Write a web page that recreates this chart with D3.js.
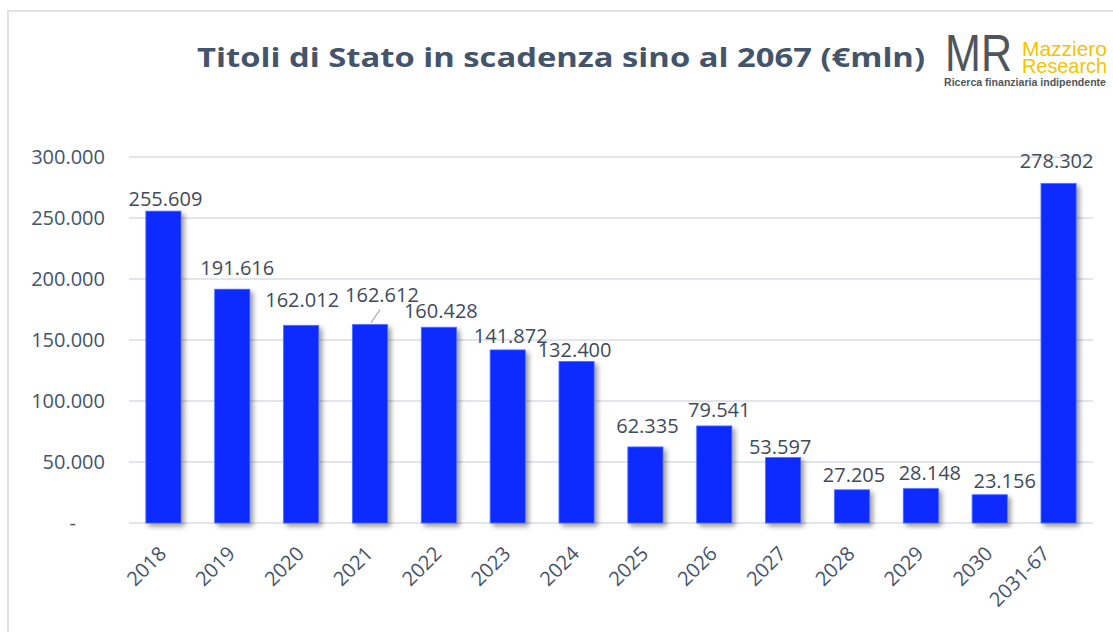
<!DOCTYPE html>
<html>
<head>
<meta charset="utf-8">
<script src="https://cdn.jsdelivr.net/npm/d3@7"></script>
<style>
  body { margin: 0; background: #fff; }
  svg { display: block; }
</style>
</head>
<body>
<div id="chart"></div>
<script>
// anni di scadenza e importi (€ mln)
const years = ["2018", "2019", "2020", "2021", "2022", "2023", "2024", "2025", "2026", "2027", "2028", "2029", "2030", "2031-67"]
const amounts = [255609, 191616, 162012, 162612, 160428, 141872, 132400, 62335, 79541, 53597, 27205, 28148, 23156, 278302]
const yTicks = [0, 50000, 100000, 150000, 200000, 250000, 300000]

// small manual nudges of the value labels, as in the original sheet
const labelDx = [2, 5, 1, 12, 2, 3, -2, 2, 5, -3, 2, 9, 15, -2]
const labelDy = [3, -6, -10, -15, -1, 1, 4, -6, -1, 4, 0, -1, 1, -7]

const width = 1113
const height = 632
const margin = {top: 157, right: 20, bottom: 109, left: 129}
const textColor = "#44546a"
const barColor = "#0a2cff"

const it = d3.formatLocale({decimal: ",", thousands: ".", grouping: [3], currency: ["€", ""]})
const fmt = it.format(",d")

const svg = d3.select("#chart")
    .append("svg")
    .attr("width", width)
    .attr("height", height)
    .attr("viewBox", [0, 0, width, height])
    .style("font-family", "'Open Sans', sans-serif")

const defs = svg.append("defs")
defs.append("filter")
    .attr("id", "shadow")
    .attr("x", "-30%").attr("y", "-10%")
    .attr("width", "180%").attr("height", "130%")
    .append("feDropShadow")
    .attr("dx", 3)
    .attr("dy", 3)
    .attr("stdDeviation", 2.5)
    .attr("flood-color", "#000")
    .attr("flood-opacity", 0.4)

// frame
svg.append("rect")
    .attr("x", 8)
    .attr("y", 11)
    .attr("width", width + 40)
    .attr("height", height + 40)
    .attr("fill", "none")
    .attr("stroke", "#dfe2ea")
    .attr("stroke-width", 2)

const x = d3.scaleBand()
    .domain(years)
    .range([margin.left, width - margin.right])
    .paddingInner(0.49)
    .paddingOuter(0.245)

const y = d3.scaleLinear()
    .domain([0, 300000])
    .range([height - margin.bottom, margin.top])

// grid
svg.append("g")
    .attr("stroke", "#d9dce4")
    .attr("stroke-width", 1.5)
    .selectAll("line")
    .data(yTicks)
    .join("line")
    .attr("x1", margin.left)
    .attr("x2", width - margin.right)
    .attr("y1", d => y(d))
    .attr("y2", d => y(d))

// y axis
svg.append("g")
    .attr("transform", `translate(${margin.left - 16},0)`)
    .call(d3.axisLeft(y).tickValues(yTicks).tickSize(0).tickPadding(8)
        .tickFormat(d => d === 0 ? "-" : fmt(d)))
    .call(g => g.select(".domain").remove())
    .call(g => g.selectAll("text")
        .attr("fill", textColor)
        .attr("font-size", 20)
        .attr("font-family", "'Open Sans', sans-serif"))
    .call(g => g.selectAll(".tick").filter(d => d === 0).select("text")
        .attr("x", -37))

// bars
const data = years.map((k, i) => ({key: k, value: amounts[i], i}))

svg.append("g")
    .selectAll("rect")
    .data(data)
    .join("rect")
    .attr("x", d => x(d.key))
    .attr("y", d => y(d.value))
    .attr("width", x.bandwidth())
    .attr("height", d => y(0) - y(d.value))
    .attr("fill", barColor)
    .attr("stroke", "#4d6bff")
    .attr("stroke-width", 0.8)
    .attr("filter", "url(#shadow)")

// value labels
const cx = d => x(d.key) + x.bandwidth() / 2
const lx = d => cx(d) + labelDx[d.i]
const ly = d => y(d.value) - 8 + labelDy[d.i]

svg.append("g")
    .selectAll("text")
    .data(data)
    .join("text")
    .attr("x", lx)
    .attr("y", ly)
    .attr("text-anchor", "middle")
    .attr("font-size", 20)
    .attr("fill", "#3f4b5b")
    .text(d => fmt(d.value))

// leader line for the shifted 2021 label
svg.append("g")
    .selectAll("line")
    .data(data.filter(d => labelDy[d.i] <= -15))
    .join("line")
    .attr("x1", d => lx(d) - 2)
    .attr("y1", d => ly(d) + 8)
    .attr("x2", d => cx(d) + 1)
    .attr("y2", d => y(d.value) - 2)
    .attr("stroke", "#a9afbb")
    .attr("stroke-width", 1.2)

// x labels (longer labels sit a bit further left, like Excel does)
svg.append("g")
    .selectAll("text")
    .data(years)
    .join("text")
    .attr("text-anchor", "end")
    .attr("font-size", 20)
    .attr("fill", textColor)
    .text(d => d)
    .attr("transform", function (d) {
        const len = this.getComputedTextLength()
        const shift = 4 - 0.4 * (len - 46)
        return `translate(${x(d) + x.bandwidth() / 2 + shift},${height - margin.bottom + 32}) rotate(-45)`
    })

// title
svg.append("text")
    .attr("x", 561)
    .attr("y", 67)
    .attr("text-anchor", "middle")
    .attr("font-size", 27)
    .attr("font-weight", "bold")
    .attr("fill", textColor)
    .attr("textLength", 728)
    .attr("lengthAdjust", "spacingAndGlyphs")
    .text("Titoli di Stato in scadenza sino al 2067 (€mln)")

// logo
const logo = svg.append("g").attr("font-family", "'Liberation Sans Narrow', 'Liberation Sans', Arial, sans-serif")
logo.append("text")
    .attr("x", 945).attr("y", 71)
    .attr("font-size", 52)
    .attr("fill", "#50555d")
    .attr("textLength", 67)
    .attr("lengthAdjust", "spacingAndGlyphs")
    .text("MR")
logo.append("text")
    .attr("x", 1022).attr("y", 56)
    .attr("font-size", 21)
    .attr("fill", "#f6c200")
    .attr("textLength", 85)
    .attr("lengthAdjust", "spacingAndGlyphs")
    .text("Mazziero")
logo.append("text")
    .attr("x", 1022).attr("y", 73)
    .attr("font-size", 21)
    .attr("fill", "#f6c200")
    .attr("textLength", 85)
    .attr("lengthAdjust", "spacingAndGlyphs")
    .text("Research")
logo.append("text")
    .attr("x", 944).attr("y", 86)
    .attr("font-size", 10)
    .attr("font-weight", "bold")
    .attr("fill", "#50555d")
    .attr("textLength", 162)
    .attr("lengthAdjust", "spacingAndGlyphs")
    .text("Ricerca finanziaria indipendente")
</script>
</body>
</html>
